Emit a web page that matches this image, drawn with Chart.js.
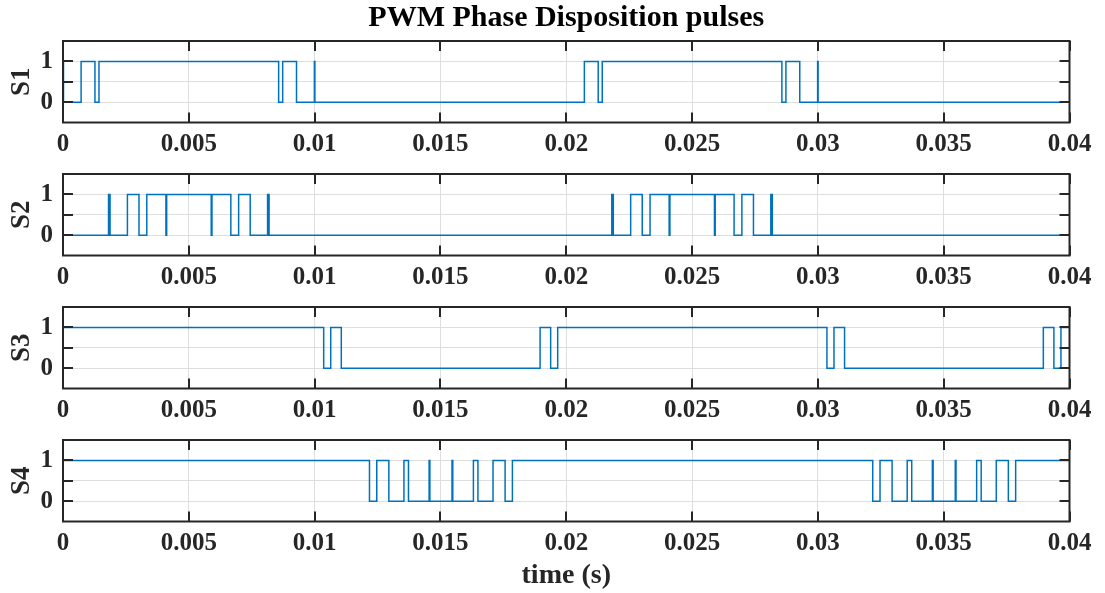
<!DOCTYPE html>
<html>
<head>
<meta charset="utf-8">
<title>PWM Phase Disposition pulses</title>
<script src="https://cdn.jsdelivr.net/npm/chart.js@4"></script>
<style>
  body { margin: 0; background: #fff; }
  #wrap { position: relative; width: 1105px; height: 593px; }
  canvas { position: absolute; left: 0; }
</style>
</head>
<body>
<div id="wrap">
  <canvas id="s1" width="1105" height="163" style="top:0px"></canvas>
  <canvas id="s2" width="1105" height="133" style="top:163px"></canvas>
  <canvas id="s3" width="1105" height="133" style="top:296px"></canvas>
  <canvas id="s4" width="1105" height="164" style="top:429px"></canvas>
</div>
<script>
// x axis
const xTickValues = [0, 0.005, 0.01, 0.015, 0.02, 0.025, 0.03, 0.035, 0.04];
const xTickLabels = ['0', '0.005', '0.01', '0.015', '0.02', '0.025', '0.03', '0.035', '0.04'];
const yTickValues = [0, 0.5, 1];
const yTickLabels = ['0', '', '1'];

// switching instants (s), level toggles at each one
const s1Start = 1;
const s1Edges = [0.00002, 0.00072, 0.00127, 0.00143, 0.00857, 0.00873, 0.00928, 0.00999, 0.01001,
                 0.02072, 0.02127, 0.02143, 0.02857, 0.02873, 0.02928, 0.02999, 0.03001];
const s2Start = 0;
const s2Edges = [0.00181, 0.00187, 0.00256, 0.00302, 0.00333, 0.00409, 0.00412, 0.00589, 0.00592,
                 0.00667, 0.00698, 0.00744, 0.00813, 0.00819,
                 0.02181, 0.02187, 0.02256, 0.02302, 0.02333, 0.02409, 0.02412, 0.02589, 0.02592,
                 0.02667, 0.02698, 0.02744, 0.02813, 0.02819];
const s3Start = 1;
const s3Edges = [0.01036, 0.01064, 0.01106, 0.01896, 0.01938, 0.01966,
                 0.03036, 0.03064, 0.03106, 0.03896, 0.03938, 0.03966];
const s4Start = 1;
const s4Edges = [0.01218, 0.01247, 0.01295, 0.01355, 0.01373, 0.01455, 0.01458, 0.01546, 0.01549,
                 0.01631, 0.01649, 0.01709, 0.01757, 0.01786,
                 0.03218, 0.03247, 0.03295, 0.03355, 0.03373, 0.03455, 0.03458, 0.03546, 0.03549,
                 0.03631, 0.03649, 0.03709, 0.03757, 0.03786];

const tEnd = 0.04;
const axisColor = '#262626';
const fontFamily = "'Liberation Serif', 'Times New Roman', serif";

function toPoints(start, edges) {
  let level = start;
  const pts = [{ x: 0, y: level }];
  edges.forEach(t => {
    level = 1 - level;
    pts.push({ x: t, y: level });
  });
  pts.push({ x: tEnd, y: level });
  return pts;
}

// box + inward tick marks like matlab axes
const boxPlugin = {
  id: 'box',
  afterDraw(chart) {
    const { ctx, chartArea: a, scales } = chart;
    ctx.save();
    ctx.strokeStyle = axisColor;
    ctx.lineWidth = 2;
    ctx.strokeRect(a.left, a.top, a.right - a.left, a.bottom - a.top);
    ctx.beginPath();
    xTickValues.forEach(v => {
      const px = Math.round(scales.x.getPixelForValue(v));
      ctx.moveTo(px, a.bottom); ctx.lineTo(px, a.bottom - 10);
      ctx.moveTo(px, a.top); ctx.lineTo(px, a.top + 10);
    });
    yTickValues.forEach(v => {
      const py = Math.round(scales.y.getPixelForValue(v));
      ctx.moveTo(a.left, py); ctx.lineTo(a.left + 10, py);
      ctx.moveTo(a.right, py); ctx.lineTo(a.right - 10, py);
    });
    ctx.stroke();
    ctx.restore();
  }
};

function makeChart(id, name, start, edges, opts) {
  const ctx = document.getElementById(id).getContext('2d');
  return new Chart(ctx, {
    type: 'line',
    data: {
      datasets: [{
        label: name,
        data: toPoints(start, edges),
        borderColor: '#0072BD',
        borderWidth: 1.5,
        pointRadius: 0,
        stepped: true,
        fill: false
      }]
    },
    options: {
      responsive: false,
      animation: false,
      layout: { padding: { top: opts.padTop, right: 35.5, left: 0, bottom: 0 } },
      plugins: {
        legend: { display: false },
        tooltip: { enabled: false },
        title: {
          display: !!opts.title,
          text: opts.title || '',
          fullSize: false,
          color: '#000',
          font: { family: fontFamily, size: 30, weight: 'bold' },
          padding: { top: 0.5, bottom: 4.5 }
        }
      },
      scales: {
        x: {
          type: 'linear',
          min: 0,
          max: tEnd,
          afterBuildTicks: s => { s.ticks = xTickValues.map(v => ({ value: v })); },
          afterFit: s => { s.height = opts.xHeight; },
          ticks: {
            autoSkip: false,
            maxRotation: 0,
            padding: 7,
            color: axisColor,
            font: { family: fontFamily, size: 25, weight: 'bold' },
            callback: (v, i) => xTickLabels[i]
          },
          grid: { color: '#dedede', lineWidth: 1, drawTicks: false },
          border: { display: false },
          title: {
            display: !!opts.xTitle,
            text: opts.xTitle || '',
            color: axisColor,
            font: { family: fontFamily, size: 28, weight: 'bold' },
            padding: { top: 0, bottom: 0 }
          }
        },
        y: {
          min: -0.5,
          max: 1.5,
          afterBuildTicks: s => { s.ticks = yTickValues.map(v => ({ value: v })); },
          afterFit: s => { s.width = 63; s.paddingTop = 0; s.paddingBottom = 0; },
          ticks: {
            padding: 10,
            color: axisColor,
            font: { family: fontFamily, size: 25, weight: 'bold' },
            callback: (v, i) => yTickLabels[i]
          },
          grid: { color: '#dedede', lineWidth: 1, drawTicks: false },
          border: { display: false },
          title: {
            display: true,
            text: name,
            color: axisColor,
            font: { family: fontFamily, size: 27, weight: 'bold' },
            padding: { top: 6, bottom: 0 }
          }
        }
      }
    },
    plugins: [boxPlugin]
  });
}

makeChart('s1', 'S1', s1Start, s1Edges, { padTop: 0, xHeight: 40.5, title: 'PWM Phase Disposition pulses' });
makeChart('s2', 'S2', s2Start, s2Edges, { padTop: 11, xHeight: 40.5 });
makeChart('s3', 'S3', s3Start, s3Edges, { padTop: 11, xHeight: 40.5 });
makeChart('s4', 'S4', s4Start, s4Edges, { padTop: 11, xHeight: 71.5, xTitle: 'time (s)' });
</script>
</body>
</html>
